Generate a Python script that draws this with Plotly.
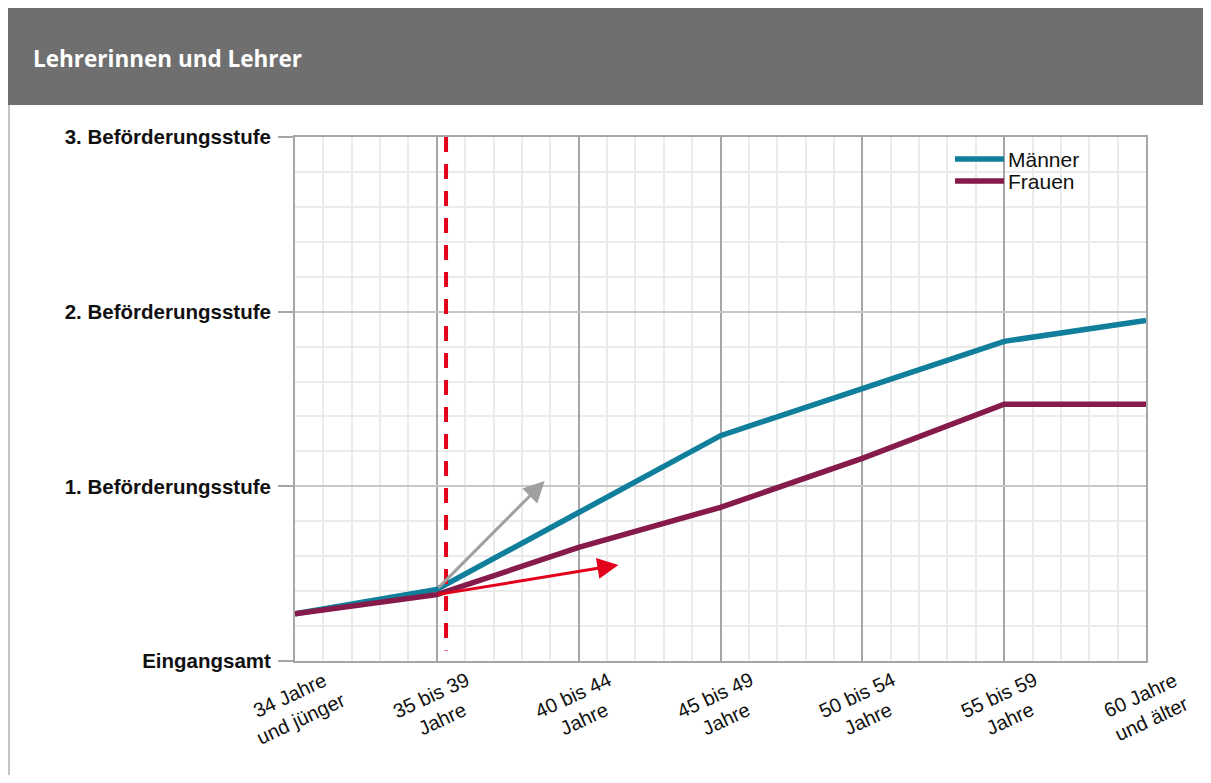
import plotly.graph_objects as go

# ---- data ----
categories = ["34 Jahre<br>und jünger", "35 bis 39<br>Jahre", "40 bis 44<br>Jahre",
              "45 bis 49<br>Jahre", "50 bis 54<br>Jahre", "55 bis 59<br>Jahre",
              "60 Jahre<br>und älter"]
x_pos = [0, 1, 2, 3, 4, 5, 6]
maenner = [0.27, 0.41, 0.85, 1.29, 1.56, 1.83, 1.95]
frauen = [0.27, 0.38, 0.65, 0.88, 1.16, 1.47, 1.47]
y_levels = [0, 1, 2, 3]
y_labels = ["Eingangsamt", "1. Beförderungsstufe", "2. Beförderungsstufe", "3. Beförderungsstufe"]
# trend arrows (start x, start y, end x, end y)
grey_arrow = [1.0, 0.41, 1.76, 1.03]
red_arrow = [1.0, 0.38, 2.28, 0.55]
cut_x = 1.065
title = "Lehrerinnen und Lehrer"
series_names = ["Männer", "Frauen"]
series_colors = ["#0f7f9c", "#861a4a"]

# page has an 8px body margin: figure drawn at offset (8, 8)
OFF = 8
W, H = 1211 - OFF, 783 - 2 * OFF
L, R, T, B = 295 - OFF, 65, 137 - OFF, 783 - 2 * OFF - (661 - OFF)
pw, ph = W - L - R, H - T - B

def px_x(p):  # screen px -> paper
    return (p - OFF - L) / pw

def px_y(p):
    return (H - B - (p - OFF)) / ph

fig = go.Figure()
for name, vals, col in zip(series_names, [maenner, frauen], series_colors):
    fig.add_trace(go.Scatter(x=x_pos, y=vals, mode="lines", name=name,
                             line=dict(color=col, width=5.5), showlegend=False))

shapes = []
# header bar
shapes.append(dict(type="rect", xref="paper", yref="paper",
                   x0=px_x(8), x1=px_x(1215), y0=px_y(105), y1=px_y(8),
                   fillcolor="#6f6f6f", line=dict(width=0), layer="below"))
# left border
shapes.append(dict(type="line", xref="paper", yref="paper",
                   x0=px_x(9), x1=px_x(9), y0=px_y(105), y1=px_y(790),
                   line=dict(color="#c4c4c4", width=2)))
# red dashed cut line
shapes.append(dict(type="line", xref="x", yref="y", x0=cut_x, x1=cut_x, y0=3, y1=0.06,
                   line=dict(color="#e3001b", width=4, dash="15px,12px")))
# custom legend lines
leg_rows = [159, 181]
for yrow, col in zip(leg_rows, series_colors):
    shapes.append(dict(type="line", xref="paper", yref="paper",
                       x0=px_x(955), x1=px_x(1004), y0=px_y(yrow), y1=px_y(yrow),
                       line=dict(color=col, width=5.5)))
fig.update_layout(shapes=shapes)

annotations = []
annotations.append(dict(text=title, xref="paper", yref="paper", x=px_x(31), y=px_y(58),
                        xanchor="left", yanchor="middle", showarrow=False,
                        font=dict(family="Open Sans", size=22.5, color="white", weight="bold")))
for yrow, name in zip(leg_rows, series_names):
    annotations.append(dict(text=name, xref="paper", yref="paper", x=px_x(1006), y=px_y(yrow),
                            xanchor="left", yanchor="middle", showarrow=False,
                            font=dict(family="Liberation Sans", size=21, color="#111111")))
for xp, lab in zip(x_pos, categories):
    annotations.append(dict(text=lab, xref="x", yref="paper", x=xp, y=0, yshift=-46,
                            xanchor="center", yanchor="middle", textangle=-25, showarrow=False,
                            font=dict(family="Liberation Sans", size=20, color="#111111")))
for arr, col in [(grey_arrow, "#a0a0a0"), (red_arrow, "#e3001b")]:
    annotations.append(dict(x=arr[2], y=arr[3], ax=arr[0], ay=arr[1], xref="x", yref="y",
                            axref="x", ayref="y", text="", showarrow=True, arrowhead=2,
                            arrowsize=1.4, arrowwidth=3, arrowcolor=col))
fig.update_layout(annotations=annotations)

fig.update_xaxes(range=[0, 6], tickvals=x_pos, showticklabels=False,
                 showgrid=True, gridcolor="#a6a6a6", gridwidth=1.5,
                 minor=dict(dtick=0.2, showgrid=True, gridcolor="#ebebeb", gridwidth=2, ticks=""),
                 showline=True, linecolor="#a6a6a6", linewidth=2, mirror=True,
                 zeroline=False, ticks="")
fig.update_yaxes(range=[0, 3], tickvals=y_levels, ticktext=y_labels,
                 tickfont=dict(family="Liberation Sans", size=20.5, color="#111111", weight="bold"),
                 showgrid=True, gridcolor="#c8c8c8", gridwidth=2,
                 minor=dict(dtick=0.2, showgrid=True, gridcolor="#ebebeb", gridwidth=2, ticks=""),
                 showline=True, linecolor="#a6a6a6", linewidth=2, mirror=True,
                 zeroline=False, ticks="outside", ticklen=15, tickcolor="#a6a6a6", tickwidth=1.5,
                 ticklabelstandoff=3)

fig.update_layout(
    width=W, height=H,
    margin=dict(l=L, r=R, t=T, b=B, autoexpand=False),
    paper_bgcolor="white", plot_bgcolor="white",
    showlegend=False,
)

fig.write_html("out.html")
